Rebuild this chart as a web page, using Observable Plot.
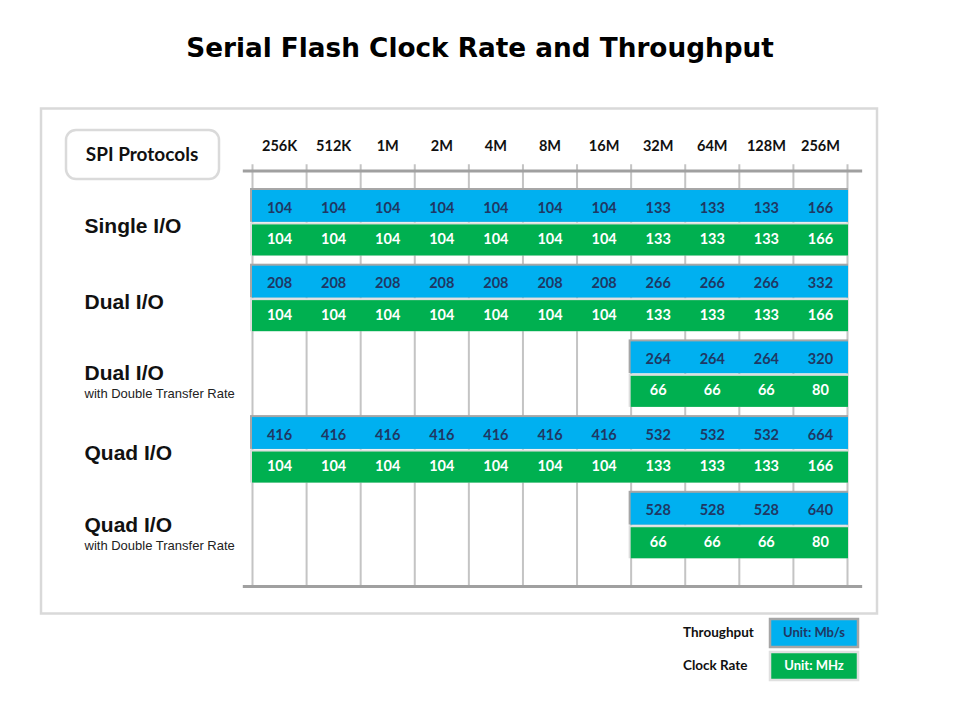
<!DOCTYPE html>
<html>
<head>
<meta charset="utf-8">
<script src="https://cdn.jsdelivr.net/npm/d3@7"></script>
<script src="https://cdn.jsdelivr.net/npm/@observablehq/plot@0.6"></script>
<style>
  body { margin: 0; background: #fff; }
  #chart svg { display: block; }
</style>
</head>
<body>
<div id="chart"></div>
<script>
// ---- Data ----
const titleText = "Serial Flash Clock Rate and Throughput";
const densities = ["256K", "512K", "1M", "2M", "4M", "8M", "16M", "32M", "64M", "128M", "256M"];
const protocols = ["Single I/O", "Dual I/O", "Dual I/O", "Quad I/O", "Quad I/O"];
const protocolNotes = ["", "", "with Double Transfer Rate", "", "with Double Transfer Rate"];
const seriesNames = ["Throughput", "Clock Rate"];
const seriesUnits = ["Unit: Mb/s", "Unit: MHz"];
const throughput = [
  [104, 104, 104, 104, 104, 104, 104, 133, 133, 133, 166],
  [208, 208, 208, 208, 208, 208, 208, 266, 266, 266, 332],
  [null, null, null, null, null, null, null, 264, 264, 264, 320],
  [416, 416, 416, 416, 416, 416, 416, 532, 532, 532, 664],
  [null, null, null, null, null, null, null, 528, 528, 528, 640]
];
const clockRate = [
  [104, 104, 104, 104, 104, 104, 104, 133, 133, 133, 166],
  [104, 104, 104, 104, 104, 104, 104, 133, 133, 133, 166],
  [null, null, null, null, null, null, null, 66, 66, 66, 80],
  [104, 104, 104, 104, 104, 104, 104, 133, 133, 133, 166],
  [null, null, null, null, null, null, null, 66, 66, 66, 80]
];

// ---- Styling constants ----
const BLUE = "#00b0f0", GREEN = "#00b050", NAVY = "#1f3864";
const CAL = "Lato, 'Open Sans', sans-serif";
const ARIAL = "'Liberation Sans', Arial, sans-serif";
const nCols = densities.length, nRows = protocols.length;
// sub-row bands (in row units)
const band = [{y1: 0, y2: 0.42, ty: 0.23}, {y1: 0.455, y2: 0.865, ty: 0.645}];

// ---- Derived tables ----
const seriesValues = [throughput, clockRate];
const cells = [];
const bars = [];
seriesValues.forEach((vals, s) => {
  vals.forEach((row, r) => {
    let first = -1;
    row.forEach((v, c) => {
      if (v != null) {
        if (first < 0) first = c;
        cells.push({row: r, series: s, col: c, value: v});
      }
    });
    if (first >= 0) bars.push({row: r, series: s, start: first, end: nCols});
  });
});
const rowsTable = protocols.map((p, i) => ({row: i, name: p, note: protocolNotes[i]}));
const colsTable = densities.map((d, i) => ({col: i, label: d}));
const bounds = d3.range(nCols + 1);

const yTop = -0.34, yAxisTop = -0.258, yBottom = 5.23, yHead = -0.58;

const plot = Plot.plot({
  width: 960,
  height: 720,
  marginLeft: 0, marginRight: 0, marginTop: 0, marginBottom: 0,
  x: {type: "linear", domain: [0, nCols], range: [252, 847], axis: null},
  y: {type: "linear", domain: [0, nRows], range: [190, 568.5], axis: null},
  style: {background: "transparent", overflow: "visible"},
  marks: [
    // vertical grid lines
    Plot.ruleX(bounds, {x: d => d, y1: yTop, y2: yBottom, stroke: "#c4c4c4", strokeWidth: 2}),
    // top and bottom axis lines
    Plot.ruleY([yAxisTop, yBottom], {y: d => d, x1: -0.17, x2: 11.28, stroke: "#a0a0a0", strokeWidth: 3}),
    // column headers
    Plot.text(colsTable, {x: d => d.col + 0.5, y: () => yHead, text: "label",
      fontFamily: CAL, fontWeight: "bold", fontSize: 14.5, fill: "#111"}),
    // bar backgrounds (borders)
    Plot.rect(bars, {x1: "start", x2: "end",
      y1: d => d.row + band[d.series].y1, y2: d => d.row + band[d.series].y2,
      fill: d => d.series === 0 ? "#a6a6a6" : "#dedede",
      insetTop: -2, insetLeft: -2, insetRight: -1}),
    // bars
    Plot.rect(bars, {x1: "start", x2: "end",
      y1: d => d.row + band[d.series].y1, y2: d => d.row + band[d.series].y2,
      fill: d => d.series === 0 ? BLUE : GREEN, insetRight: -1}),
    // values
    Plot.text(cells, {x: d => d.col + 0.5, y: d => d.row + band[d.series].ty, text: "value",
      fill: d => d.series === 0 ? NAVY : "#ffffff",
      fontFamily: CAL, fontWeight: "bold", fontSize: 14.5}),
    // row labels
    Plot.text(rowsTable, {y: d => d.row + (d.note ? 0.42 : 0.47), text: "name",
      frameAnchor: "left", textAnchor: "start", dx: 84,
      fontFamily: ARIAL, fontWeight: "bold", fontSize: 21, fill: "#111"}),
    Plot.text(rowsTable.filter(d => d.note), {y: d => d.row + 0.69, text: "note",
      frameAnchor: "left", textAnchor: "start", dx: 84,
      fontFamily: ARIAL, fontSize: 13, fill: "#222"})
  ]
});

const svg = d3.select(plot);
// background decorations (inserted behind marks)
const bg = svg.insert("g", ":first-child");
bg.append("rect").attr("x", 41).attr("y", 108.5).attr("width", 836).attr("height", 505)
  .attr("fill", "#fff").attr("stroke", "#d9d9d9").attr("stroke-width", 2.5);
bg.append("rect").attr("x", 66).attr("y", 130).attr("width", 153).attr("height", 49).attr("rx", 10)
  .attr("fill", "#fff").attr("stroke", "#dadada").attr("stroke-width", 2.5);
bg.append("text").attr("x", 142).attr("y", 156).attr("text-anchor", "middle").attr("dominant-baseline", "middle")
  .attr("font-family", CAL).attr("font-weight", "bold").attr("font-size", 19).attr("fill", "#111")
  .text("SPI Protocols");

// title
svg.append("text").attr("x", 480).attr("y", 57).attr("text-anchor", "middle")
  .attr("font-family", "'DejaVu Sans', Verdana, sans-serif").attr("font-weight", "bold")
  .attr("font-size", 26.3).attr("fill", "#000").text(titleText);

// legend
const lg = svg.append("g");
const legendY = [619, 652];
seriesNames.forEach((name, i) => {
  const y = legendY[i];
  lg.append("text").attr("x", 683).attr("y", y + 14.5).attr("text-anchor", "start").attr("dominant-baseline", "middle")
    .attr("font-family", CAL).attr("font-weight", "bold").attr("font-size", 13.5).attr("fill", "#111")
    .text(name);
  lg.append("rect").attr("x", 770).attr("y", y).attr("width", 88).attr("height", 28)
    .attr("fill", i === 0 ? BLUE : GREEN).attr("stroke", i === 0 ? "#a6a6a6" : "#e0e0e0").attr("stroke-width", 2.5);
  lg.append("text").attr("x", 814).attr("y", y + 14.5).attr("text-anchor", "middle").attr("dominant-baseline", "middle")
    .attr("font-family", CAL).attr("font-weight", "bold").attr("font-size", 13)
    .attr("fill", i === 0 ? NAVY : "#fff").text(seriesUnits[i]);
});

document.getElementById("chart").appendChild(plot);
</script>
</body>
</html>
